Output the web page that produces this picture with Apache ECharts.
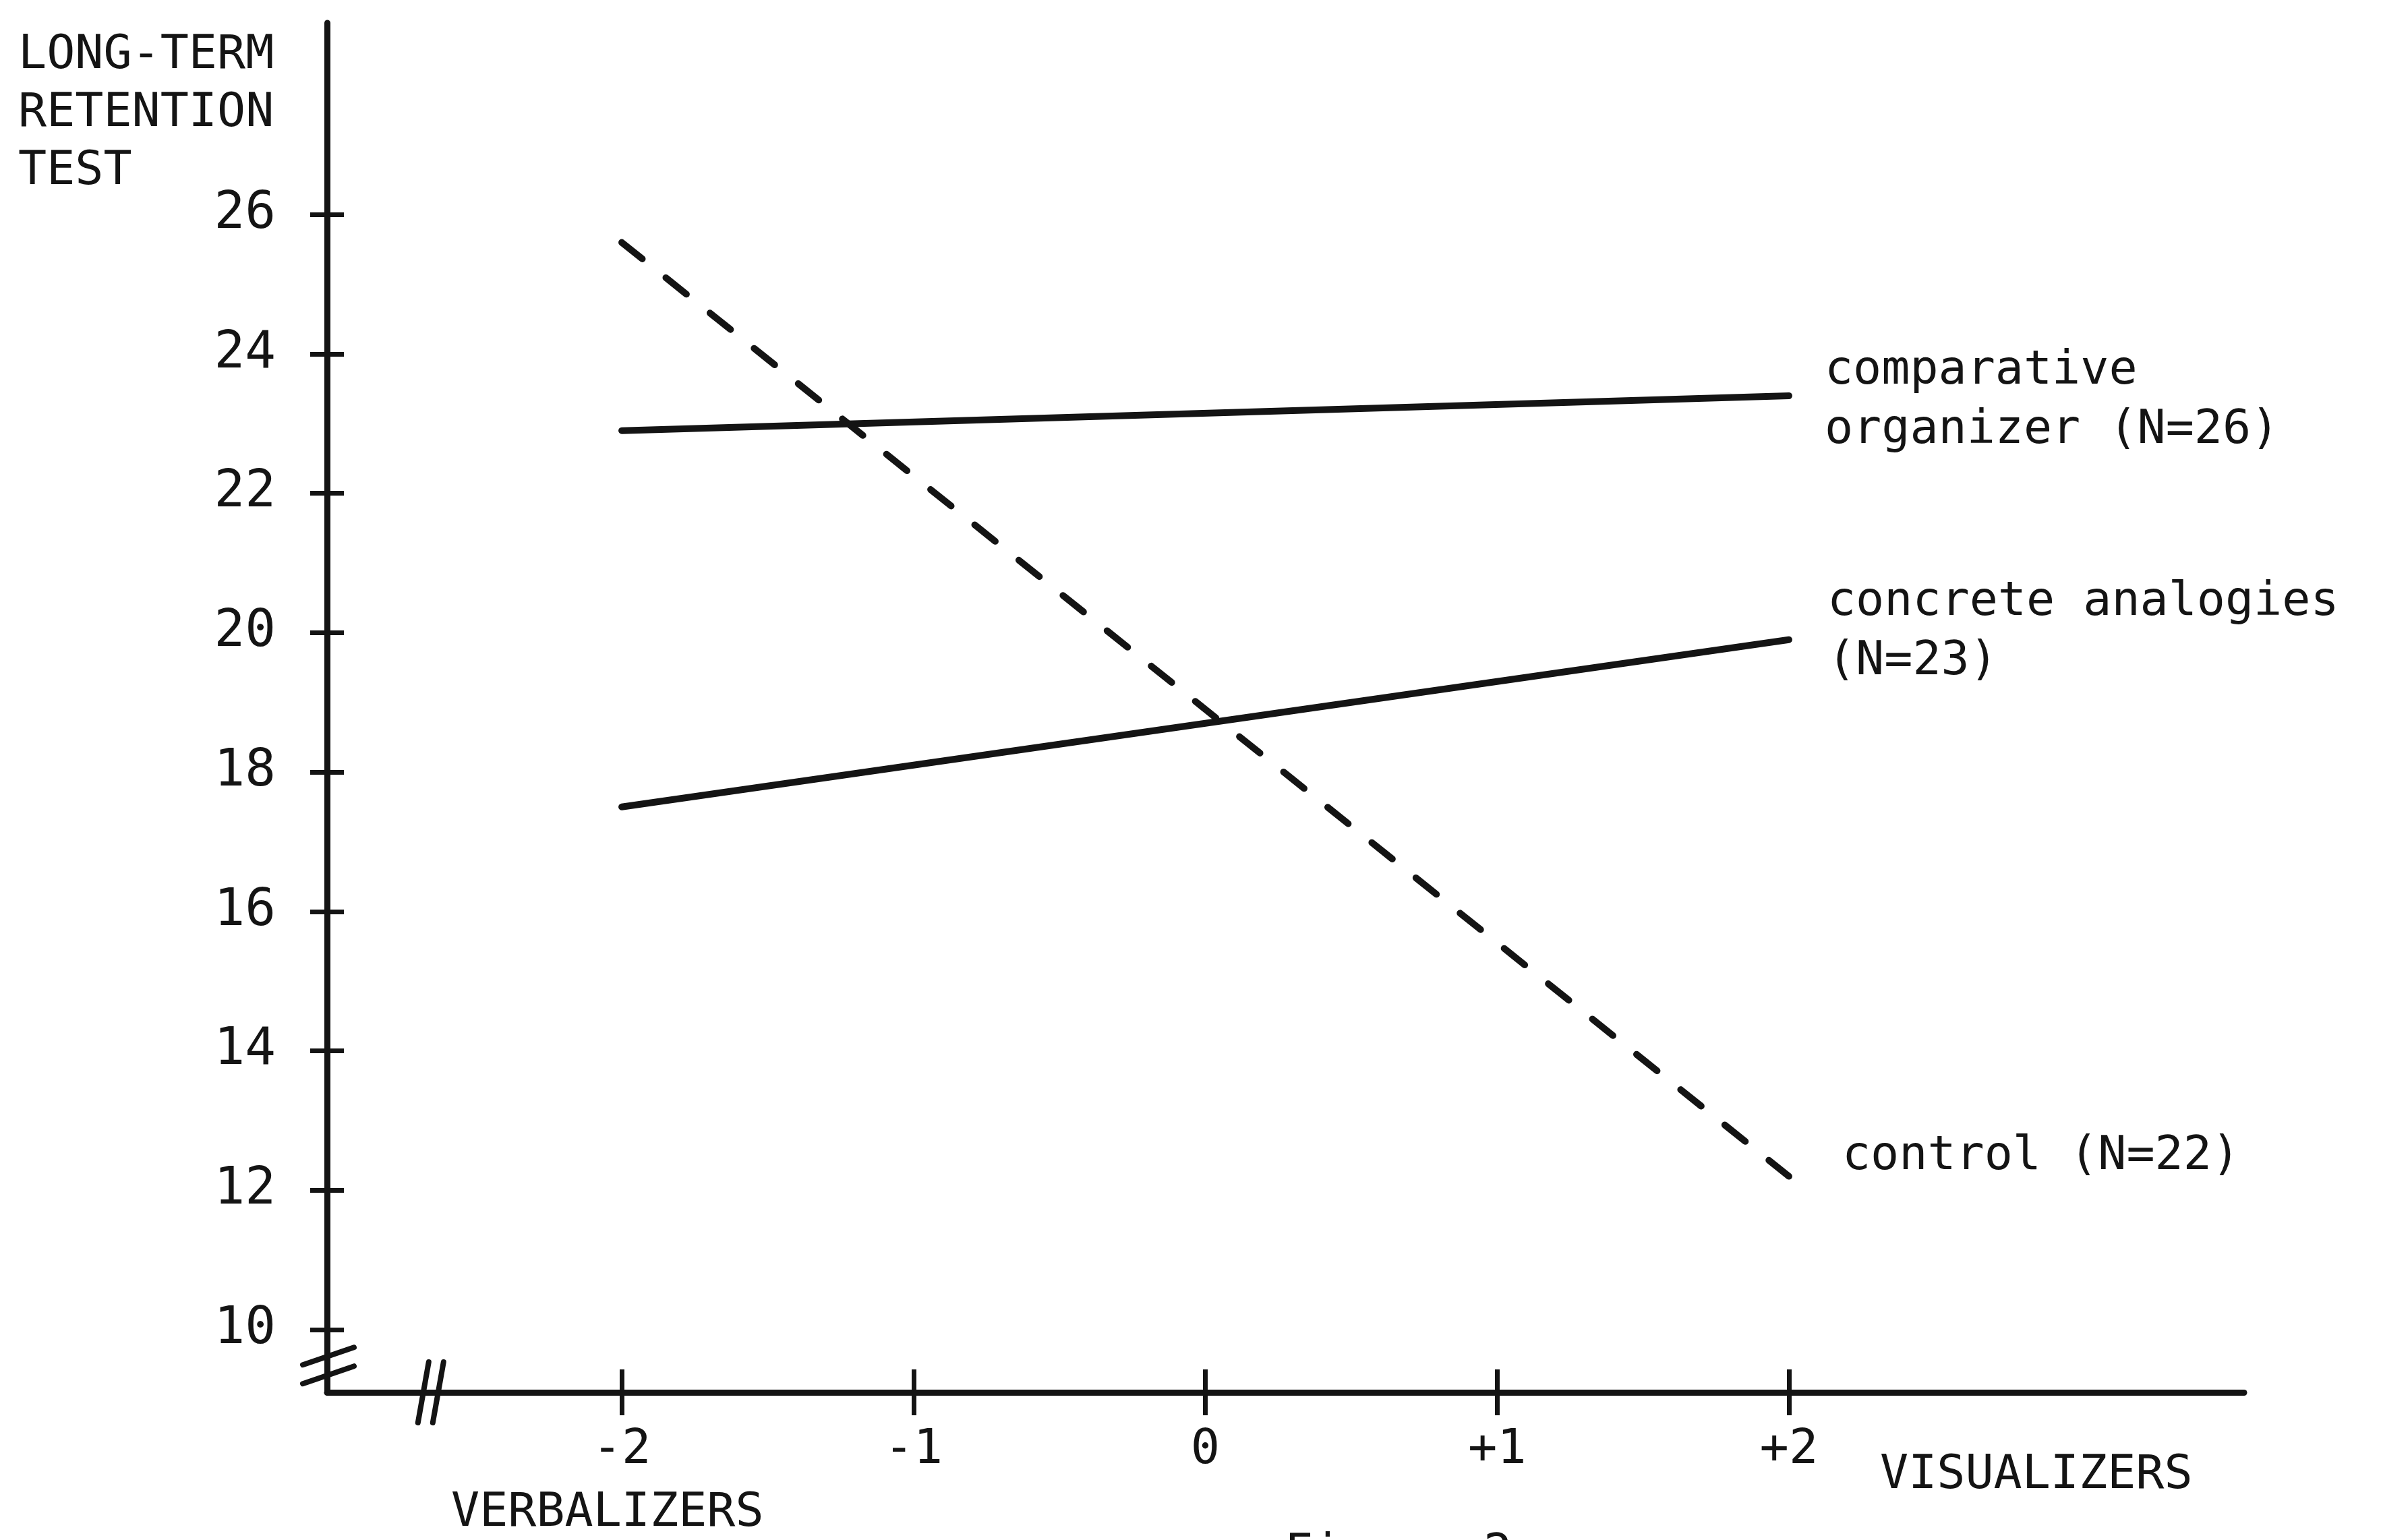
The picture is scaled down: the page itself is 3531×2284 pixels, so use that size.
<!DOCTYPE html>
<html>
<head>
<meta charset="utf-8">
<title>Long-term retention test</title>
<script src="https://cdn.jsdelivr.net/npm/echarts@6/dist/echarts.min.js"></script>
<style>
  html, body { margin: 0; padding: 0; background: #fff; }
  #chart { width: 3531px; height: 2284px; }
</style>
</head>
<body>
<div id="chart"></div>
<script>
  // values
  const xTicks = [-2, -1, 0, 1, 2];
  const xTickLabels = ['-2', '-1', '0', '+1', '+2'];
  const yTicks = [10, 12, 14, 16, 18, 20, 22, 24, 26];
  const groupX = [-2, 2];
  const comparativeOrganizer = [22.9, 23.4];
  const concreteAnalogies = [17.5, 19.9];
  const control = [25.6, 12.2];
  const groupNames = ['comparative\norganizer (N=26)', 'concrete analogies\n(N=23)', 'control (N=22)'];

  const FONT = 'DejaVu Sans Mono';
  const INK = '#141414';
  const xMin = -3.01, xMax = 3.56, yMin = 9.1, yMax = 28.75;

  let chart = echarts.init(document.getElementById('chart'));

  function pairs(vals) {
    return groupX.map(function (x, i) { return [x, vals[i]]; });
  }

  let tickStyle = { color: INK, width: 7 };

  chart.setOption({
    backgroundColor: '#fff',
    animation: false,
    grid: { left: 485, right: 203, top: 34, bottom: 219 },
    xAxis: [
      {
        type: 'value', position: 'bottom', min: xMin, max: xMax,
        splitLine: { show: false },
        axisLine: { show: true, onZero: false, lineStyle: { color: INK, width: 9, cap: 'round' } },
        axisTick: { show: true, customValues: xTicks, length: 34, lineStyle: tickStyle },
        axisLabel: {
          customValues: xTicks, margin: 50, fontSize: 72, fontFamily: FONT, color: INK,
          formatter: function (v) {
            let i = xTicks.indexOf(v);
            return i < 0 ? '' : xTickLabels[i];
          }
        }
      },
      {
        // inner half of the crossing ticks
        type: 'value', position: 'bottom', min: xMin, max: xMax,
        splitLine: { show: false },
        axisLine: { show: false, onZero: false },
        axisLabel: { show: false },
        axisTick: { show: true, inside: true, customValues: xTicks, length: 34, lineStyle: tickStyle }
      }
    ],
    yAxis: [
      {
        type: 'value', position: 'left', min: yMin, max: yMax,
        splitLine: { show: false },
        axisLine: { show: true, onZero: false, lineStyle: { color: INK, width: 9, cap: 'round' } },
        axisTick: { show: true, customValues: yTicks, length: 25, lineStyle: tickStyle },
        axisLabel: { customValues: yTicks, margin: 76, fontSize: 76, fontFamily: FONT, color: INK }
      },
      {
        type: 'value', position: 'left', min: yMin, max: yMax,
        splitLine: { show: false },
        axisLine: { show: false, onZero: false },
        axisLabel: { show: false },
        axisTick: { show: true, inside: true, customValues: yTicks, length: 25, lineStyle: tickStyle }
      }
    ],
    series: [
      {
        name: 'comparative organizer', type: 'line', xAxisIndex: 0, yAxisIndex: 0,
        symbol: 'none', data: pairs(comparativeOrganizer),
        lineStyle: { color: INK, width: 10, cap: 'round' }
      },
      {
        name: 'concrete analogies', type: 'line', xAxisIndex: 0, yAxisIndex: 0,
        symbol: 'none', data: pairs(concreteAnalogies),
        lineStyle: { color: INK, width: 10, cap: 'round' }
      },
      {
        name: 'control', type: 'line', xAxisIndex: 0, yAxisIndex: 0,
        symbol: 'none', data: pairs(control),
        lineStyle: { color: INK, width: 10, type: [39, 44.8], cap: 'round' }
      }
    ]
  });

  // labels and break marks placed through the axes
  function px(x, y) {
    return chart.convertToPixel({ seriesIndex: 0 }, [x, y]);
  }

  function txt(text, x, y, align, vAlign) {
    return {
      type: 'text', x: x, y: y, z: 10,
      style: {
        text: text, fill: INK, fontSize: 70, fontFamily: FONT, lineHeight: 88,
        align: align || 'left', verticalAlign: vAlign || 'middle'
      }
    };
  }

  function seg(x1, y1, x2, y2) {
    return {
      type: 'line', z: 10,
      shape: { x1: x1, y1: y1, x2: x2, y2: y2 },
      style: { stroke: INK, lineWidth: 8, lineCap: 'round' }
    };
  }

  let ends = [comparativeOrganizer, concreteAnalogies, control];
  let labelShift = [[53, 8], [57, -11], [79, -29]];
  let graphics = [];

  ends.forEach(function (vals, i) {
    let p = px(groupX[1], vals[1]);
    graphics.push(txt(groupNames[i], p[0] + labelShift[i][0], p[1] + labelShift[i][1]));
  });

  // y-axis break
  let yb1 = px(xMin, 9.62), yb2 = px(xMin, 9.35);
  graphics.push(seg(yb1[0] - 36, yb1[1] + 13, yb1[0] + 40, yb1[1] - 13));
  graphics.push(seg(yb2[0] - 36, yb2[1] + 13, yb2[0] + 40, yb2[1] - 13));

  // x-axis break
  let xb = px(-2.68, yMin);
  graphics.push(seg(xb[0] - 8, xb[1] + 45, xb[0] + 8, xb[1] - 45));
  graphics.push(seg(xb[0] + 14, xb[1] + 45, xb[0] + 30, xb[1] - 45));

  // axis titles
  graphics.push({
    type: 'text', x: 27, y: 40, z: 10,
    style: {
      text: 'LONG-TERM\nRETENTION\nTEST', fill: INK, fontSize: 70, fontFamily: FONT,
      lineHeight: 86, align: 'left', verticalAlign: 'top'
    }
  });
  graphics.push(txt('VERBALIZERS', 669, 2245));
  graphics.push(txt('VISUALIZERS', 2788, 2189));
  graphics.push(txt('Figure 2', 1905, 2262, 'left', 'top'));

  chart.setOption({ graphic: graphics });
</script>
</body>
</html>
